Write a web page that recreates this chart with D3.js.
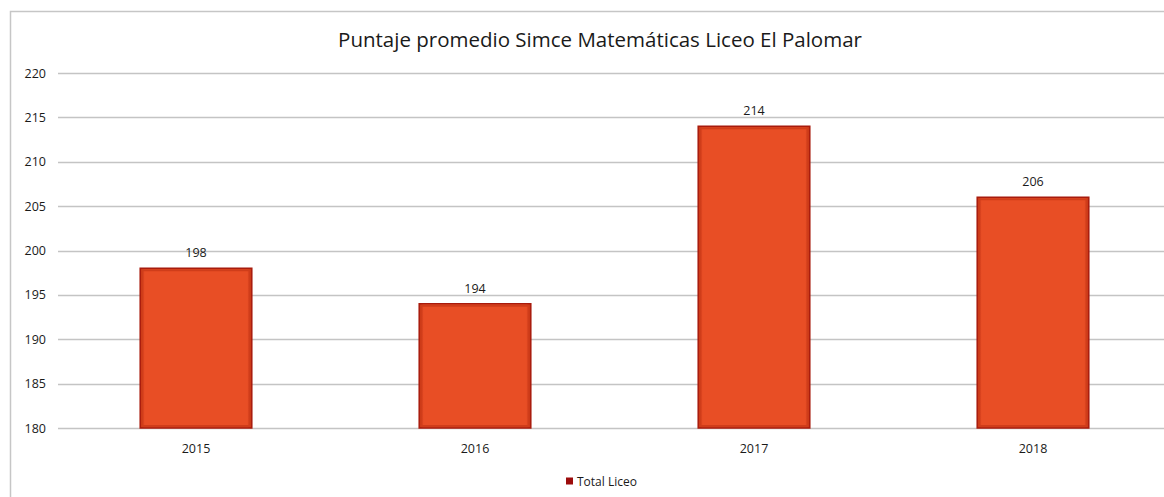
<!DOCTYPE html>
<html>
<head>
<meta charset="utf-8">
<script src="https://cdn.jsdelivr.net/npm/d3@7"></script>
<style>
  body { margin: 0; background: #fff; }
  svg { display: block; font-family: "Open Sans", "Noto Sans", sans-serif; }
</style>
</head>
<body>
<div id="chart"></div>
<script>
const years = ['2015', '2016', '2017', '2018'];
const scores = [198, 194, 214, 206];
const yTicks = [180, 185, 190, 195, 200, 205, 210, 215, 220];
const seriesName = 'Total Liceo';
const title = 'Puntaje promedio Simce Matemáticas Liceo El Palomar';

const width = 1164, height = 497;
const margin = { left: 56.5, right: -8.5, top: 73, bottom: 69 };

const svg = d3.select('#chart').append('svg')
  .attr('width', width)
  .attr('height', height);

// chart frame (only top and left edges are visible in the crop)
svg.append('path')
  .attr('d', `M10.5,${height + 5}V11.5H${width + 5}`)
  .attr('fill', 'none')
  .attr('stroke', '#c6c6c6')
  .attr('stroke-width', 1.5);

const x = d3.scaleBand()
  .domain(years)
  .range([margin.left, width - margin.right])
  .paddingInner(0.6)
  .paddingOuter(0.3);

const y = d3.scaleLinear()
  .domain([180, 220])
  .range([height - margin.bottom, margin.top]);

// gridlines
svg.append('g')
  .selectAll('line')
  .data(yTicks)
  .join('line')
  .attr('x1', 58)
  .attr('x2', width)
  .attr('y1', d => Math.round(y(d)) + 0.5)
  .attr('y2', d => Math.round(y(d)) + 0.5)
  .attr('stroke', '#c4c4c4')
  .attr('stroke-width', 1.3);

// y axis labels
const yAxis = svg.append('g')
  .attr('transform', `translate(46,0)`)
  .call(d3.axisLeft(y).tickValues(yTicks).tickSize(0).tickPadding(0));
yAxis.select('.domain').remove();
yAxis.selectAll('text')
  .attr('font-size', 12.5)
  .attr('fill', '#1a1a1a')
  .attr('font-family', '"Open Sans", sans-serif');

// x axis labels
const xAxis = svg.append('g')
  .attr('transform', `translate(0,${y(180)})`)
  .call(d3.axisBottom(x).tickSize(0).tickPadding(16));
xAxis.select('.domain').remove();
xAxis.selectAll('text')
  .attr('font-size', 12.5)
  .attr('fill', '#1a1a1a')
  .attr('font-family', '"Open Sans", sans-serif');

// bars
const defs = svg.append('defs');
const grad = defs.append('linearGradient').attr('id', 'edge').attr('x1', 0).attr('x2', 1);
grad.append('stop').attr('offset', '0%').attr('stop-color', '#b52a12');
grad.append('stop').attr('offset', '4%').attr('stop-color', '#e84e25');
grad.append('stop').attr('offset', '96%').attr('stop-color', '#e84e25');
grad.append('stop').attr('offset', '100%').attr('stop-color', '#b52a12');

const bars = svg.append('g')
  .selectAll('g')
  .data(years.map((yr, i) => ({ yr, v: scores[i] })))
  .join('g');

bars.append('rect')
  .attr('x', d => x(d.yr))
  .attr('y', d => y(d.v))
  .attr('width', x.bandwidth())
  .attr('height', d => y(180) - y(d.v))
  .attr('fill', 'url(#edge)')
  .attr('stroke', '#a81b0c')
  .attr('stroke-width', 1.5);

bars.append('rect')
  .attr('x', d => x(d.yr) + 2)
  .attr('y', d => y(d.v) + 2)
  .attr('width', x.bandwidth() - 4)
  .attr('height', d => y(180) - y(d.v) - 4)
  .attr('fill', 'none')
  .attr('stroke', '#cf3d1a')
  .attr('stroke-width', 2);

// value labels
bars.append('text')
  .attr('x', d => x(d.yr) + x.bandwidth() / 2)
  .attr('y', d => y(d.v) - 11)
  .attr('text-anchor', 'middle')
  .attr('font-size', 12.5)
  .attr('fill', '#1a1a1a')
  .text(d => d.v);

// title
svg.append('text')
  .attr('x', 600)
  .attr('y', 47)
  .attr('text-anchor', 'middle')
  .attr('font-size', 20.5)
  .attr('fill', '#1a1a1a')
  .text(title);

// legend
const legend = svg.append('g').attr('transform', 'translate(566,481)');
legend.append('rect')
  .attr('x', 0).attr('y', -3.5)
  .attr('width', 7).attr('height', 7)
  .attr('fill', '#9c0c0c');
legend.append('text')
  .attr('x', 11).attr('y', 4.5)
  .attr('font-size', 12)
  .attr('fill', '#1a1a1a')
  .text(seriesName);
</script>
</body>
</html>
